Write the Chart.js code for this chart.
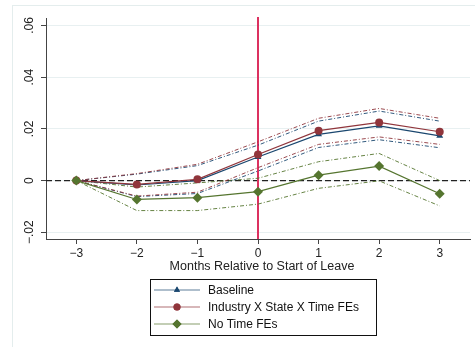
<!DOCTYPE html>
<html>
<head>
<meta charset="utf-8">
<script src="https://cdn.jsdelivr.net/npm/chart.js@4"></script>
<style>
  html, body { margin: 0; padding: 0; background: #fff; }
  #wrap { position: relative; width: 475px; height: 347px; }
</style>
</head>
<body>
<div id="wrap"><canvas id="chartCanvas" width="475" height="347"></canvas></div>
<script>
const months = [-3, -2, -1, 0, 1, 2, 3];
const yTicks = [-0.02, 0, 0.02, 0.04, 0.06];

const baseline   = [0, -0.0017, 0.0000, 0.0091, 0.0179, 0.0212, 0.0173];
const baselineLo = [0, -0.0062, -0.0050, 0.0037, 0.0128, 0.0158, 0.0127];
const baselineHi = [0, 0.0025, 0.0058, 0.0137, 0.0230, 0.0269, 0.0230];

const industry   = [0, -0.0015, 0.0005, 0.0101, 0.0193, 0.0225, 0.0189];
const industryLo = [0, -0.0060, -0.0045, 0.0050, 0.0140, 0.0169, 0.0140];
const industryHi = [0, 0.0027, 0.0063, 0.0150, 0.0241, 0.0279, 0.0241];

const noTime   = [0, -0.0073, -0.0066, -0.0043, 0.0021, 0.0056, -0.0051];
const noTimeLo = [0, -0.0116, -0.0116, -0.0091, -0.0030, -0.0001, -0.0098];
const noTimeHi = [0, -0.0025, -0.0009, 0.0009, 0.0073, 0.0105, 0.0000];

const seriesNames = ["Baseline", "Industry X State X Time FEs", "No Time FEs"];
const xTitle = "Months Relative to Start of Leave";

const BLUE = "#1a476f", RED = "#90353b", GREEN = "#55752f";
const FONT = "'Liberation Sans', Arial, Helvetica, sans-serif";

function pts(arr) {
  return months.map((m, i) => ({ x: m, y: arr[i] }));
}

function mainLine(label, arr, color, style, radius, order) {
  return {
    label, data: pts(arr), borderColor: color, backgroundColor: color,
    borderWidth: 1.2, pointStyle: style, pointRadius: radius, pointBorderWidth: 0,
    pointHoverRadius: radius, tension: 0, order
  };
}

function ciLine(arr, color) {
  return {
    label: "", data: pts(arr), borderColor: color, borderWidth: 0.9,
    borderDash: [4, 2, 1, 2], pointRadius: 0, tension: 0, order: 10
  };
}

// frame, reference lines, rotated y labels, x title, legend box
const stataBits = {
  id: "stataBits",
  beforeDraw(chart) {
    const ctx = chart.ctx;
    ctx.save();
    ctx.fillStyle = "#fff";
    ctx.fillRect(0, 0, chart.width, chart.height);
    ctx.strokeStyle = "#e4eded";
    ctx.lineWidth = 1;
    ctx.strokeRect(12.5, 5.5, 600, 600);
    ctx.restore();
  },
  beforeDatasetsDraw(chart) {
    const { ctx, chartArea, scales } = chart;
    const x0 = scales.x.getPixelForValue(0);
    const y0 = scales.y.getPixelForValue(0);
    ctx.save();
    ctx.strokeStyle = "#222";
    ctx.lineWidth = 1.2;
    ctx.setLineDash([6, 3]);
    ctx.beginPath();
    ctx.moveTo(chartArea.left, y0);
    ctx.lineTo(chartArea.right, y0);
    ctx.stroke();
    ctx.setLineDash([]);
    ctx.strokeStyle = "#dc3160";
    ctx.lineWidth = 2;
    ctx.beginPath();
    ctx.moveTo(x0, chartArea.top - 1);
    ctx.lineTo(x0, chartArea.bottom);
    ctx.stroke();
    ctx.restore();
  },
  afterDraw(chart) {
    const { ctx, scales } = chart;
    ctx.save();
    ctx.fillStyle = "#222";
    ctx.font = "12px " + FONT;
    ctx.textAlign = "center";
    ctx.textBaseline = "middle";
    yTicks.forEach(v => {
      const y = scales.y.getPixelForValue(v);
      const txt = v === 0 ? "0" : (v < 0 ? "\u2212" : "") + Math.abs(v).toFixed(2).replace(/^0/, "");
      ctx.save();
      ctx.translate(30, y);
      ctx.rotate(-Math.PI / 2);
      ctx.fillText(txt, 0, 0);
      ctx.restore();
    });
    ctx.font = "12.5px " + FONT;
    ctx.fillText(xTitle, scales.x.getPixelForValue(0) + 4, 267);

    // legend
    ctx.font = "12px " + FONT;
    const bx = 150.5, by = 279.5, bw = 226, bh = 56;
    ctx.strokeStyle = "#111";
    ctx.lineWidth = 1;
    ctx.strokeRect(bx, by, bw, bh);
    const rows = [290, 307, 324];
    const cols = [BLUE, RED, GREEN];
    const styles = ["triangle", "circle", "rectRot"];
    const radii = [3.5, 3.5, 4.5];
    rows.forEach((ry, i) => {
      ctx.strokeStyle = cols[i];
      ctx.globalAlpha = 0.7;
      ctx.lineWidth = 1.2;
      ctx.beginPath();
      ctx.moveTo(154, ry);
      ctx.lineTo(200, ry);
      ctx.stroke();
      ctx.globalAlpha = 1;
      ctx.fillStyle = cols[i];
      Chart.helpers.drawPoint(ctx, { pointStyle: styles[i], radius: radii[i], borderWidth: 0 }, 177, ry);
      ctx.fill();
      ctx.fillStyle = "#111";
      ctx.textAlign = "left";
      ctx.fillText(seriesNames[i], 208, ry + 1);
    });
    ctx.restore();
  }
};

new Chart(document.getElementById("chartCanvas"), {
  type: "line",
  data: {
    datasets: [
      mainLine(seriesNames[2], noTime, GREEN, "rectRot", 5, 1),
      mainLine(seriesNames[1], industry, RED, "circle", 4, 2),
      mainLine(seriesNames[0], baseline, BLUE, "triangle", 4, 3),
      ciLine(industryHi, RED), ciLine(industryLo, RED),
      ciLine(baselineHi, BLUE), ciLine(baselineLo, BLUE),
      ciLine(noTimeHi, GREEN), ciLine(noTimeLo, GREEN)
    ]
  },
  options: {
    responsive: false,
    animation: false,
    events: [],
    layout: { padding: { left: 12, right: 2, top: 18, bottom: 0 } },
    plugins: { legend: { display: false }, tooltip: { enabled: false } },
    scales: {
      x: {
        type: "linear", min: -3.5, max: 3.5,
        afterBuildTicks: s => { s.ticks = months.map(v => ({ value: v })); },
        afterFit: s => { s.height = 108; },
        grid: { drawOnChartArea: false, drawTicks: true, tickLength: 5, tickColor: "#444" },
        border: { color: "#444", width: 1 },
        ticks: {
          padding: 2, color: "#222", font: { family: FONT, size: 12 },
          maxRotation: 0,
          callback: v => String(v).replace("-", "\u2212")
        }
      },
      y: {
        min: -0.0226, max: 0.0629,
        afterBuildTicks: s => { s.ticks = yTicks.map(v => ({ value: v })); },
        afterFit: s => { s.width = 34; },
        grid: { color: "#e8f0f1", lineWidth: 1, drawTicks: true, tickLength: 5, tickColor: "#444" },
        border: { color: "#444", width: 1 },
        ticks: { display: false }
      }
    }
  },
  plugins: [stataBits]
});
</script>
</body>
</html>
